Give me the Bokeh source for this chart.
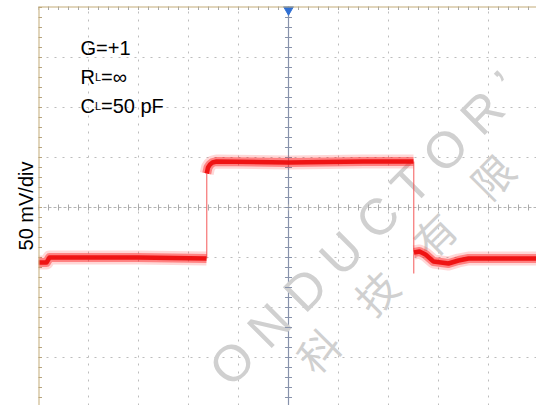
import numpy as np
from bokeh.plotting import figure
from bokeh.models import Range1d, Span, Label, Grid, FixedTicker
from bokeh.embed import file_html
from bokeh.resources import INLINE

# Screen layout of the graticule
FRAME_LEFT, FRAME_TOP = 38, 6
PX_PER_DIV = 50
MV_PER_DIV = 50

# Visible graticule: time in divisions, amplitude in mV (1 mV == 1 px here)
X_DIVS = (-5.0, 4.96)
Y_MV = (-198.0, 201.0)

# Captured step response (time in divisions, voltage in mV)
low1_t = [-5.00, -4.84, -4.78, -3.00, -1.64]
low1_v = [-55, -55, -50, -50, -51]
high_t = [-1.635, -1.61, -1.57, -1.52, -1.44, 0.00, 1.50, 2.50]
high_v = [34, 40, 43, 45, 46, 45, 46, 46]
low2_t = [2.51, 2.62, 2.74, 2.90, 3.20, 3.40, 3.60, 4.96]
low2_v = [-45, -44, -47, -54, -56, -53, -51, -51]

# Fast transitions: time, level before, level after
edge_t = [-1.635, 2.505]
edge_v0 = [-51, 46]
edge_v1 = [34, -66]

# Test conditions shown in the corner
cond_lines = [("G=+1", "", ""), ("R", "L", "=\u221e"), ("C", "L", "=50 pF")]
y_label = "50 mV/div"


def px_x(px):
    return X_DIVS[0] + (px - FRAME_LEFT) / PX_PER_DIV


def px_y(py):
    return Y_MV[1] - (py - FRAME_TOP) * MV_PER_DIV / PX_PER_DIV


p = figure(width=536, height=405,
           x_range=Range1d(*X_DIVS), y_range=Range1d(*Y_MV),
           x_axis_location=None, y_axis_location="left",
           output_backend="svg", toolbar_location=None,
           min_border_left=FRAME_LEFT, min_border_top=FRAME_TOP,
           min_border_right=0, min_border_bottom=0)
p.outline_line_color = None
p.background_fill_color = "white"
p.border_fill_color = "white"
p.grid.visible = False

# Left axis carries only the vertical scale caption
yax = p.yaxis[0]
yax.ticker = FixedTicker(ticks=[])
yax.axis_line_color = None
yax.major_tick_line_color = None
yax.minor_tick_line_color = None
yax.major_tick_out = 0
yax.major_tick_in = 0
yax.major_label_standoff = 0
yax.major_label_text_font_size = "0px"
yax.axis_label = y_label
yax.axis_label_standoff = 2
yax.axis_label_text_font = "Liberation Sans"
yax.axis_label_text_font_size = "20px"
yax.axis_label_text_font_style = "normal"
yax.axis_label_text_color = "black"

# Dotted graticule lines, one per division
grid_col = "#bdbdbd"
xg = Grid(dimension=0, ticker=FixedTicker(ticks=[-4, -3, -2, -1, 1, 2, 3, 4]),
          grid_line_color=grid_col, grid_line_dash="2 6", grid_line_width=1)
yg = Grid(dimension=1, ticker=FixedTicker(ticks=[-150, -100, -50, 50, 100, 150]),
          grid_line_color=grid_col, grid_line_dash="2 6", grid_line_width=1)
p.add_layout(xg, "center")
p.add_layout(yg, "center")

# Watermark
p.text(x=[px_x(366)], y=[px_y(228)], text=["O N D U C T O R \u02bc"],
       angle=np.pi / 4, text_align="center", text_baseline="middle",
       text_font_size="51px", text_color="#d0d0d0",
       text_font={"value": "Liberation Sans"})
p.text(x=[px_x(404)], y=[px_y(262)],
       text=["\u79d1\u3000\u6280\u3000\u6709\u3000\u9650"],
       angle=np.pi / 4, text_align="center", text_baseline="middle",
       text_font_size="41px", text_color="#d0d0d0",
       text_font={"value": "Noto Sans CJK SC"})

# Centre cross with 0.2-division sub-ticks
p.add_layout(Span(location=0, dimension="width", line_color="#b4b4b4",
                  line_dash="3 2", line_width=1, level="underlay"))
p.add_layout(Span(location=0, dimension="height", line_color="#8792ab",
                  line_width=1.2, level="underlay"))
sub_x = np.round(np.arange(-5.0, 5.0, 0.2), 2)
sub_y = np.arange(-190, 201, 10)
p.scatter(x=sub_x, y=np.zeros_like(sub_x), marker="dash", angle=np.pi / 2,
          size=6, line_color="#a9a9a9", line_width=1)
p.scatter(x=np.zeros_like(sub_y), y=sub_y, marker="dash",
          size=7, line_color="#8792ab", line_width=1)
# sub-ticks along the left and top edges
p.scatter(x=np.full(sub_y.shape, X_DIVS[0]), y=sub_y, marker="dash",
          size=7, line_color="#b7a47e", line_width=1)
p.scatter(x=sub_x, y=np.full(sub_x.shape, Y_MV[1]), marker="dash",
          angle=np.pi / 2, size=7, line_color="#a6a6a6", line_width=1)

# Trace: thin fast edges, noisy thick settled levels
p.segment(x0=edge_t, y0=edge_v0, x1=edge_t, y1=edge_v1,
          line_color="#f25050", line_width=1.2, line_alpha=0.8)
for ts, vs in ((low1_t, low1_v), (high_t, high_v), (low2_t, low2_v)):
    p.line(ts, vs, line_color="#ff2020", line_width=14, line_alpha=0.18,
           line_join="round", line_cap="butt")
    p.line(ts, vs, line_color="#ff1a1a", line_width=9, line_alpha=0.45,
           line_join="round", line_cap="butt")
    p.line(ts, vs, line_color="#ee0e0e", line_width=4.5, line_alpha=0.95,
           line_join="round", line_cap="butt")

# Frame edges
p.add_layout(Span(location=X_DIVS[0], dimension="height",
                  line_color="#c4ab78", line_width=2))
p.add_layout(Span(location=Y_MV[1], dimension="width",
                  line_color="#c4ab78", line_width=2))

# Trigger position marker
p.scatter(x=[0], y=[px_y(9)], marker="inverted_triangle", size=10,
          fill_color="#2f6fd3", line_color="#2f6fd3")

# Condition labels with small subscripts
font = "Liberation Sans"
base_rows = [47, 76, 105]
for (main, sub, rest), base in zip(cond_lines, base_rows):
    yb = px_y(base)
    p.add_layout(Label(x=px_x(80), y=yb, text=main, text_font=font,
                       text_font_size="20px", text_color="black",
                       text_baseline="alphabetic"))
    if sub:
        p.add_layout(Label(x=px_x(94.5), y=yb, text=sub, text_font=font,
                           text_font_size="11px", text_color="black",
                           text_baseline="alphabetic"))
        p.add_layout(Label(x=px_x(100.5), y=yb, text=rest, text_font=font,
                           text_font_size="20px", text_color="black",
                           text_baseline="alphabetic"))

open("out.html", "w").write(file_html(p, INLINE))
